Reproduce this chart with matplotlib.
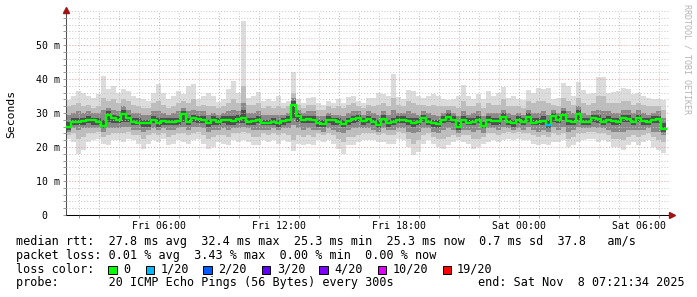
import numpy as np
import matplotlib
matplotlib.use('Agg')
import matplotlib.pyplot as plt
from matplotlib.patches import Rectangle
from matplotlib.ticker import MultipleLocator, FixedLocator, FuncFormatter
import matplotlib.transforms as mtransforms

# ---------------- data ----------------
start_hour = 1 + 21 / 60 + 34 / 3600      # Fri 01:21:34 (hours since Fri 00:00)
step_hours = 0.25

median = [26.0, 27.5, 27.4, 27.6, 27.9, 27.8, 27.5, 26.3, 29.5, 28.4,
          28.0, 29.8, 28.6, 27.5, 27.2, 27.0, 27.0, 27.9, 27.1, 27.7,
          27.5, 27.4, 27.6, 29.7, 27.5, 28.4, 28.2, 27.9, 27.0, 27.8,
          27.4, 28.0, 27.8, 27.6, 28.3, 28.4, 27.4, 27.6, 27.9, 27.2,
          27.2, 27.3, 27.2, 27.6, 27.9, 32.4, 29.0, 27.9, 28.2, 28.0,
          27.0, 26.9, 27.9, 27.8, 27.3, 26.9, 27.6, 28.2, 28.5, 27.6,
          28.1, 27.3, 26.6, 28.3, 27.0, 27.5, 27.8, 27.9, 27.7, 27.2,
          27.3, 28.4, 27.5, 27.0, 26.7, 27.9, 28.9, 27.8, 26.0, 27.9,
          27.2, 27.5, 27.9, 26.2, 27.9, 27.6, 27.7, 28.9, 27.5, 27.0,
          27.9, 27.3, 28.8, 27.2, 27.3, 27.7, 26.6, 29.0, 27.9, 29.4,
          27.6, 27.4, 29.8, 27.4, 27.3, 28.4, 28.2, 27.5, 27.9, 27.6,
          27.5, 28.4, 28.3, 27.3, 28.6, 27.6, 27.5, 28.0, 28.1, 25.3]

ping_max = [33.8, 35.0, 36.5, 36.0, 35.0, 34.5, 35.5, 41.0, 37.0, 38.0,
            36.0, 37.0, 36.5, 35.0, 34.5, 34.0, 33.5, 36.0, 38.5, 36.0,
            34.0, 35.0, 36.5, 35.5, 38.0, 38.6, 34.0, 35.0, 36.0, 35.0,
            33.3, 34.0, 37.0, 39.5, 36.0, 57.0, 34.3, 35.0, 36.3, 33.5,
            34.0, 33.5, 35.0, 33.0, 33.5, 42.2, 34.0, 33.0, 34.5, 34.8,
            33.0, 32.5, 33.5, 33.0, 34.0, 33.0, 34.8, 35.0, 33.5, 33.0,
            34.3, 34.5, 35.8, 35.5, 35.0, 41.5, 34.8, 34.0, 36.8, 36.5,
            35.0, 34.5, 35.0, 35.5, 35.0, 34.0, 33.8, 34.0, 35.0, 38.2,
            35.0, 34.0, 35.5, 34.0, 36.5, 35.0, 36.0, 37.7, 34.5, 35.0,
            34.0, 33.8, 36.8, 36.0, 37.5, 37.0, 37.3, 34.0, 34.5, 38.7,
            38.0, 35.0, 39.2, 36.8, 35.5, 36.0, 40.7, 40.5, 36.0, 36.3,
            36.5, 37.3, 37.0, 35.5, 36.0, 35.0, 34.5, 34.0, 34.0, 33.8]

ping_min = [22.5, 21.5, 18.0, 19.0, 21.5, 22.0, 22.5, 21.0, 20.5, 22.0,
            22.0, 21.5, 22.5, 22.0, 21.0, 19.5, 21.0, 22.0, 21.5, 22.5,
            20.5, 21.0, 22.0, 21.5, 21.0, 22.0, 22.5, 21.0, 19.5, 20.0,
            21.5, 21.0, 20.7, 22.0, 21.5, 22.0, 21.5, 20.7, 20.7, 22.0,
            21.5, 22.0, 21.0, 22.0, 21.5, 18.8, 21.0, 20.5, 21.0, 20.7,
            22.0, 21.5, 22.0, 21.0, 19.5, 17.8, 20.5, 20.5, 21.5, 22.0,
            22.0, 22.0, 21.5, 21.5, 21.0, 21.0, 22.5, 22.0, 20.0, 17.6,
            18.5, 21.0, 22.0, 21.0, 20.0, 19.5, 20.5, 21.5, 22.0, 21.5,
            21.0, 19.5, 20.0, 21.0, 21.5, 22.0, 21.5, 22.0, 22.5, 22.0,
            22.5, 22.0, 22.0, 21.0, 20.5, 21.0, 20.5, 21.5, 21.5, 22.0,
            20.0, 20.5, 21.5, 22.0, 22.5, 22.5, 21.5, 22.0, 21.5, 20.0,
            20.0, 19.1, 20.5, 21.5, 20.5, 21.5, 22.0, 20.0, 19.0, 18.2]

p90 = [32.0, 32.5, 33.0, 32.0, 32.5, 31.5, 32.0, 34.5, 33.5, 34.0,
       33.0, 34.0, 33.5, 32.5, 32.0, 31.5, 31.5, 33.0, 33.5, 32.5,
       31.5, 32.0, 33.0, 33.5, 33.0, 34.0, 32.0, 32.5, 32.0, 32.0,
       31.5, 32.0, 33.0, 34.0, 33.0, 38.0, 32.5, 32.5, 33.0, 31.5,
       32.0, 31.5, 32.0, 31.5, 32.0, 36.0, 32.5, 31.5, 32.5, 32.5,
       31.0, 31.0, 32.0, 31.5, 32.0, 31.5, 32.5, 33.0, 32.0, 31.5,
       32.5, 32.0, 32.5, 33.0, 32.0, 34.5, 32.5, 32.0, 33.5, 33.0,
       32.5, 32.5, 32.0, 32.5, 32.0, 32.0, 32.0, 32.0, 31.5, 33.5,
       32.0, 32.0, 33.0, 31.5, 33.0, 32.5, 32.5, 34.0, 32.0, 32.0,
       32.0, 31.5, 33.5, 33.0, 33.5, 33.5, 33.0, 32.5, 32.0, 34.5,
       33.5, 32.5, 34.5, 33.0, 32.5, 33.0, 35.0, 35.0, 33.0, 33.0,
       33.0, 33.5, 33.5, 32.5, 33.0, 32.5, 32.0, 32.0, 32.0, 31.0]

p10 = [23.5, 24.0, 22.5, 23.0, 24.0, 24.0, 24.5, 23.0, 23.5, 24.0,
       24.0, 24.0, 24.5, 23.5, 23.5, 22.5, 23.5, 24.0, 23.5, 24.0,
       23.0, 23.5, 24.0, 24.0, 23.5, 24.0, 24.5, 23.5, 22.5, 23.0,
       23.5, 23.5, 23.0, 24.0, 24.0, 24.5, 24.0, 23.0, 23.0, 24.0,
       23.5, 24.0, 23.5, 24.0, 23.5, 22.0, 23.5, 23.0, 23.5, 23.0,
       24.0, 23.5, 24.0, 23.5, 22.5, 21.5, 23.0, 23.0, 23.5, 24.0,
       24.0, 24.0, 23.5, 24.0, 23.5, 23.5, 24.5, 24.0, 22.5, 21.0,
       22.0, 23.5, 24.0, 23.0, 22.5, 22.5, 23.0, 23.5, 23.0, 23.5,
       23.5, 22.5, 22.5, 23.0, 24.0, 24.0, 23.5, 24.0, 24.5, 24.0,
       24.5, 24.0, 24.0, 23.5, 23.0, 23.5, 23.0, 24.0, 23.5, 24.0,
       22.5, 23.0, 24.0, 24.0, 24.5, 24.5, 24.0, 24.0, 23.5, 22.5,
       22.5, 22.0, 23.0, 23.5, 23.0, 23.5, 24.0, 23.0, 22.0, 21.5]

p75 = [29.5, 30.0, 30.5, 30.0, 30.5, 30.0, 30.0, 31.0, 31.5, 31.0,
       30.5, 32.0, 31.0, 30.0, 30.0, 29.5, 29.5, 30.5, 30.5, 30.0,
       29.5, 30.0, 30.5, 31.5, 30.5, 31.0, 30.5, 30.5, 29.5, 30.0,
       29.5, 30.0, 30.5, 31.0, 30.5, 33.0, 30.0, 30.0, 30.5, 29.5,
       29.5, 29.5, 29.5, 29.5, 30.0, 34.5, 31.0, 30.0, 30.5, 30.5,
       29.0, 29.0, 30.0, 29.5, 29.5, 29.0, 30.0, 30.5, 30.5, 29.5,
       30.5, 30.0, 29.5, 30.5, 29.5, 31.0, 30.0, 30.0, 30.5, 30.0,
       29.5, 30.5, 30.0, 29.5, 29.0, 30.0, 31.0, 30.0, 29.0, 30.5,
       29.5, 30.0, 30.5, 29.0, 30.0, 30.0, 30.0, 31.0, 30.0, 29.5,
       30.0, 29.5, 31.0, 30.0, 30.0, 30.5, 29.5, 31.0, 30.0, 31.5,
       30.5, 30.0, 32.0, 30.0, 29.5, 30.5, 31.0, 30.5, 30.5, 30.0,
       30.0, 31.0, 31.0, 30.0, 31.0, 30.0, 29.5, 30.0, 30.5, 28.5]

p25 = [24.5, 25.5, 25.0, 25.5, 25.5, 25.5, 25.5, 24.5, 25.5, 25.5,
       25.5, 26.0, 26.0, 25.0, 25.0, 24.5, 25.0, 25.5, 25.0, 25.5,
       25.0, 25.0, 25.5, 26.0, 25.0, 26.0, 26.0, 25.5, 24.5, 25.0,
       25.0, 25.5, 25.0, 25.5, 25.5, 26.0, 25.5, 25.0, 25.0, 25.0,
       25.0, 25.5, 25.0, 25.5, 25.5, 26.5, 25.5, 25.0, 25.5, 25.0,
       25.0, 24.5, 25.5, 25.0, 24.5, 24.0, 25.0, 25.5, 25.5, 25.5,
       25.5, 25.0, 24.5, 25.5, 25.0, 25.0, 25.5, 25.5, 24.5, 24.0,
       24.5, 25.5, 25.5, 24.5, 24.0, 25.0, 25.5, 25.0, 24.0, 25.0,
       25.0, 24.5, 25.0, 24.0, 25.5, 25.5, 25.0, 26.0, 25.5, 25.0,
       25.5, 25.0, 26.0, 25.0, 24.5, 25.0, 24.5, 26.0, 25.0, 26.0,
       24.5, 25.0, 26.0, 25.5, 25.5, 26.0, 25.5, 25.5, 25.0, 24.5,
       24.5, 24.5, 25.0, 25.0, 25.0, 25.0, 25.5, 24.5, 24.5, 23.5]

p60 = [27.5, 28.5, 28.5, 28.5, 29.0, 28.5, 28.5, 28.0, 30.5, 29.5,
       29.0, 31.0, 29.5, 28.5, 28.5, 28.0, 28.0, 29.0, 28.5, 28.5,
       28.5, 28.5, 28.5, 30.5, 28.5, 29.5, 29.0, 29.0, 28.0, 29.0,
       28.5, 29.0, 29.0, 29.0, 29.5, 31.0, 28.5, 28.5, 29.0, 28.0,
       28.0, 28.5, 28.0, 28.5, 29.0, 33.5, 30.0, 29.0, 29.0, 29.0,
       28.0, 28.0, 29.0, 28.5, 28.5, 28.0, 28.5, 29.0, 29.5, 28.5,
       29.0, 28.5, 28.0, 29.5, 28.0, 28.5, 29.0, 29.0, 28.5, 28.5,
       28.5, 29.5, 28.5, 28.0, 28.0, 29.0, 30.0, 29.0, 27.5, 29.0,
       28.5, 28.5, 29.0, 27.5, 29.0, 28.5, 28.5, 30.0, 28.5, 28.0,
       29.0, 28.5, 30.0, 28.5, 28.5, 29.0, 28.0, 30.0, 29.0, 30.5,
       28.5, 28.5, 31.0, 28.5, 28.5, 29.5, 29.5, 28.5, 29.0, 28.5,
       28.5, 29.5, 29.5, 28.5, 29.5, 28.5, 28.5, 29.0, 29.0, 27.0]

p40 = [25.0, 26.5, 26.5, 26.5, 27.0, 26.5, 26.5, 25.5, 27.5, 27.0,
       27.0, 27.5, 27.5, 26.5, 26.5, 26.0, 26.0, 27.0, 26.0, 26.5,
       26.5, 26.5, 26.5, 27.5, 26.5, 27.5, 27.0, 27.0, 26.0, 26.5,
       26.5, 27.0, 26.5, 26.5, 27.0, 27.0, 26.5, 26.5, 27.0, 26.5,
       26.5, 26.5, 26.0, 26.5, 27.0, 28.5, 27.5, 27.0, 27.0, 27.0,
       26.0, 26.0, 27.0, 26.5, 26.5, 26.0, 26.5, 27.0, 27.5, 26.5,
       27.0, 26.5, 25.5, 27.0, 26.0, 26.5, 27.0, 27.0, 26.5, 26.0,
       26.5, 27.5, 26.5, 26.0, 25.5, 27.0, 27.5, 27.0, 25.0, 27.0,
       26.5, 26.5, 27.0, 25.5, 27.0, 26.5, 26.5, 28.0, 26.5, 26.0,
       27.0, 26.5, 27.5, 26.5, 26.5, 26.5, 25.5, 27.5, 27.0, 28.0,
       26.5, 26.5, 28.0, 26.5, 26.5, 27.5, 27.0, 26.5, 27.0, 26.5,
       26.5, 27.5, 27.5, 26.5, 27.5, 26.5, 26.5, 27.0, 27.0, 24.5]

loss = [0] * 120
loss[96] = 1

tick_hours = [6, 12, 18, 24, 30]
tick_labels = ['Fri 06:00', 'Fri 12:00', 'Fri 18:00', 'Sat 00:00', 'Sat 06:00']
y_ticks = [0, 10, 20, 30, 40, 50]
y_tick_labels = ['0  ', '10 m', '20 m', '30 m', '40 m', '50 m']

loss_levels = [0, 1, 2, 3, 4, 10, 19]
loss_names = ['0', '1/20', '2/20', '3/20', '4/20', '10/20', '19/20']
loss_colors = ['#00ff00', '#00b8ff', '#0059ff', '#5e00ff', '#7e00ff', '#dd00ff', '#ff0000']

legend_lines = [
    'median rtt:  27.8 ms avg  32.4 ms max  25.3 ms min  25.3 ms now  0.7 ms sd  37.8   am/s',
    'packet loss: 0.01 % avg  3.43 % max  0.00 % min  0.00 % now',
    'loss color:',
    'probe:       20 ICMP Echo Pings (56 Bytes) every 300s',
]
end_text = 'end: Sat Nov  8 07:21:34 2025'

# ---------------- figure ----------------
W, H, DPI = 697, 297, 100
MONO = 'DejaVu Sans Mono'
plt.rcParams['font.family'] = MONO

fig = plt.figure(figsize=(W / DPI, H / DPI), dpi=DPI)
fig.patch.set_facecolor('white')

ax_l, ax_r, ax_t, ax_b = 66, 669, 11, 215
ax = fig.add_axes([ax_l / W, (H - ax_b) / H, (ax_r - ax_l) / W, (ax_b - ax_t) / H])
ax.set_facecolor('white')

n = len(median)
t = start_hour + np.arange(n + 1) * step_hours


def ext(a):
    a = np.asarray(a, dtype=float)
    return np.append(a, a[-1])


bands = [(ping_min, ping_max, '#dcdcdc'),
         (p10, p90, '#bdbdbd'),
         (p25, p75, '#8a8a8a'),
         (p40, p60, '#4e4e4e')]
for k, (lo, hi, col) in enumerate(bands):
    ax.fill_between(t, ext(lo), ext(hi), step='post', color=col, lw=0, zorder=1 + k * 0.1)

ax.step(t, ext(median), where='post', color=loss_colors[0], lw=1.7, zorder=4)
for i in range(n):
    if loss[i] > 0:
        idx = max(j for j, lv in enumerate(loss_levels) if lv <= loss[i])
        ax.hlines(median[i], t[i], t[i + 1], color=loss_colors[idx], lw=1.7, zorder=5)

ax.set_xlim(start_hour, start_hour + (ax_r - ax_l) / 20.0)
ax.set_ylim(0, 60)

# grid
ax.xaxis.set_major_locator(FixedLocator(np.arange(3, 33, 3)))
ax.xaxis.set_minor_locator(MultipleLocator(1))
lab_map = dict(zip(tick_hours, tick_labels))
ax.xaxis.set_major_formatter(FuncFormatter(lambda v, p: lab_map.get(int(round(v)), '')))
ax.set_yticks(y_ticks)
ax.set_yticklabels(y_tick_labels)
ax.yaxis.set_minor_locator(MultipleLocator(2))
ax.set_axisbelow(False)
ax.grid(which='minor', color='#c4c4c4', lw=0.7, linestyle=(0, (1, 2)))
ax.grid(which='major', color='#e89a9a', lw=0.7, linestyle=(0, (1, 2)))
for gl in ax.get_xgridlines() + ax.get_ygridlines():
    gl.set_zorder(3)

ax.tick_params(axis='both', which='both', direction='out', length=2, width=0.6,
               color='#888888', labelsize=7.1)
ax.tick_params(axis='y', pad=2.6)
ax.tick_params(axis='x', pad=2.2)

for s in ['top', 'right']:
    ax.spines[s].set_visible(False)
ax.spines['left'].set_color('#505050')
ax.spines['bottom'].set_color('#000000')
ax.spines['left'].set_linewidth(0.75)
ax.spines['bottom'].set_linewidth(0.75)

# arrows
arrow_col = '#a01414'
tr_up = mtransforms.offset_copy(ax.transAxes, fig=fig, x=0, y=1.5, units='dots')
ax.plot([0], [1], marker='^', color=arrow_col, markersize=4.2, transform=tr_up, clip_on=False, zorder=6)
tr_rt = mtransforms.offset_copy(ax.transAxes, fig=fig, x=2.5, y=0, units='dots')
ax.plot([1], [0], marker='>', color=arrow_col, markersize=4.2, transform=tr_rt, clip_on=False, zorder=6)

# y label
fig.text(11 / W, 1 - 114 / H, 'Seconds', rotation=90, ha='center', va='center', fontsize=8.2, family=MONO)

# watermark
fig.text(687 / W, 1 - 4 / H, 'RRDTOOL / TOBI OETIKER', rotation=270, ha='center', va='top',
         fontsize=6, color='#b4b4b4', family=MONO)

# legend lines
baselines = [245, 258.8, 272.6, 286.4]
for txt, b in zip(legend_lines, baselines):
    fig.text(16 / W, 1 - b / H, txt, ha='left', va='baseline', fontsize=8.45, family=MONO)
fig.text(478 / W, 1 - baselines[3] / H, end_text, ha='left', va='baseline', fontsize=8.45, family=MONO)

box_x = [108.3, 145.7, 203.3, 261.7, 319.3, 377.7, 442.7]
text_x = [123, 161, 218.3, 276.7, 334, 392.3, 456.7]
for bx, tx, col, name in zip(box_x, text_x, loss_colors, loss_names):
    fig.patches.append(Rectangle((bx / W, 1 - 274 / H), 8.3 / W, 8.3 / H, transform=fig.transFigure,
                                 facecolor=col, edgecolor='black', lw=0.7, figure=fig))
    fig.text(tx / W, 1 - baselines[2] / H, name, ha='left', va='baseline', fontsize=8.45, family=MONO)

fig.savefig('out.png', dpi=DPI, facecolor='white')
